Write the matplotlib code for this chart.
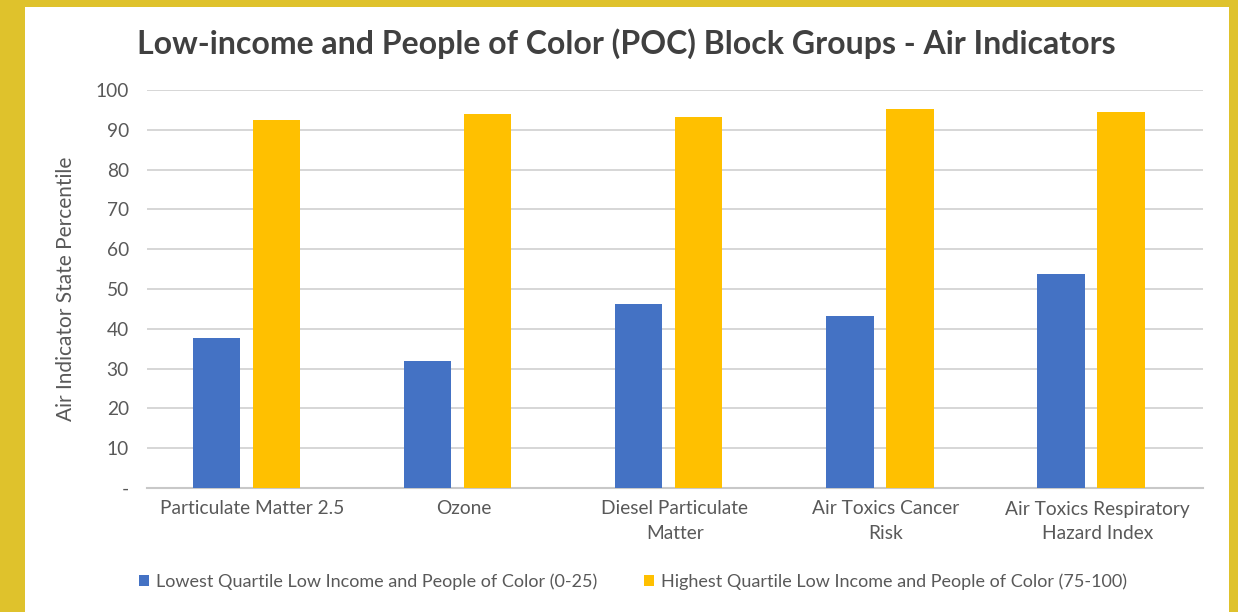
import numpy as np
import matplotlib
matplotlib.use("Agg")
import matplotlib.pyplot as plt
from matplotlib.patches import Rectangle

# data
categories = ["Particulate Matter 2.5", "Ozone", "Diesel Particulate\nMatter",
              "Air Toxics Cancer\nRisk", "Air Toxics Respiratory\nHazard Index"]
lowest = [37.7, 31.9, 46.2, 43.2, 53.8]
highest = [92.5, 94.0, 93.3, 95.2, 94.4]
series_names = ["Lowest Quartile Low Income and People of Color (0-25)",
                "Highest Quartile Low Income and People of Color (75-100)"]
yticks = [0, 10, 20, 30, 40, 50, 60, 70, 80, 90, 100]
ytick_labels = ["-", "10", "20", "30", "40", "50", "60", "70", "80", "90", "100"]

plt.rcParams['font.family'] = ['Lato', 'DejaVu Sans']

fig = plt.figure(figsize=(12.38, 6.12), dpi=100, facecolor="#DFC22C")
# white card inside the yellow frame
W, H = 1238, 612
fig.patches.append(Rectangle((25 / W, 0), (1229 - 25) / W, (H - 7) / H,
                             transform=fig.transFigure, facecolor="white",
                             edgecolor="none", zorder=-5))

ax = fig.add_axes([147 / W, 1 - 488 / H, (1202.7 - 147) / W, (488 - 90) / H])
ax.set_zorder(2)
ax.set_facecolor("white")

x = np.arange(len(categories))
w = 0.225
ax.bar(x - 0.171, lowest, w, color="#4472C4", label=series_names[0], zorder=3)
ax.bar(x + 0.113, highest, w, color="#FFC000", label=series_names[1], zorder=3)

ax.set_xlim(-0.5, len(categories) - 0.5)
ax.set_ylim(0, 100)
ax.set_yticks(yticks)
ax.set_yticklabels(ytick_labels)
ax.set_xticks(x)
ax.set_xticklabels(categories, linespacing=1.55)
ax.tick_params(axis="both", length=0, labelsize=13.8, colors="#595959")
ax.tick_params(axis="y", pad=13)
ax.tick_params(axis="x", pad=9)
ax.yaxis.grid(True, color="#D0D0D0", linewidth=1.2, zorder=0)
for s in ["top", "right", "left"]:
    ax.spines[s].set_visible(False)
ax.spines["bottom"].set_color("#C8C8C8")
ax.spines["bottom"].set_linewidth(1.5)

ax.set_ylabel("Air Indicator State Percentile", fontsize=15, color="#595959", labelpad=14)

fig.text(626 / W, 1 - 44 / H, "Low-income and People of Color (POC) Block Groups - Air Indicators",
         ha="center", va="center", fontsize=23, fontweight="bold", color="#404040")

fig.legend(loc="center", bbox_to_anchor=(633 / W, 1 - 582 / H), ncol=2, frameon=False,
           fontsize=13, labelcolor="#595959", handlelength=0.55, handleheight=0.55,
           handletextpad=0.4, columnspacing=2.6)

fig.savefig("out.png", dpi=100, facecolor=fig.get_facecolor())
